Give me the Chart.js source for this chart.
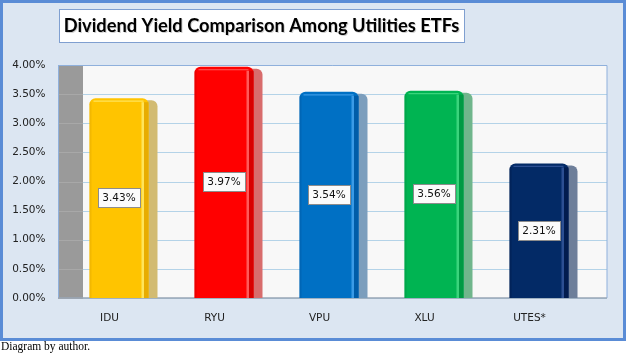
<!DOCTYPE html>
<html><head><meta charset="utf-8">
<script src="https://cdn.jsdelivr.net/npm/chart.js@4.4.1/dist/chart.umd.min.js"></script>
<style>html,body{margin:0;padding:0;background:#fff;}#wrap{width:627px;height:357px;position:relative;}</style>
</head><body><div id="wrap"><canvas id="c" width="627" height="357"></canvas></div>
<script>
const titleText = 'Dividend Yield Comparison Among Utilities ETFs';
const captionText = 'Diagram by author.';
const categories = ['IDU', 'RYU', 'VPU', 'XLU', 'UTES*'];
const yieldValues = [3.43, 3.97, 3.54, 3.56, 2.31];
const yMin = 0, yMax = 4, yStep = 0.5;
const barColors = ['#ffc400', '#ff0000', '#0070c4', '#00b452', '#032a66'];
const sideColors = ['#d2bb72', '#d86c6c', '#7c9ebd', '#70b68c', '#6e7f9a'];
const hiColors = ['#ffe45a', '#ff5a5a', '#3a9ae6', '#3ad47c', '#2c4f92'];
const edgeColors = ['#e8ac00', '#d80000', '#005ca8', '#009a44', '#021c4e'];

const decor = {
  id: 'decor',
  beforeDraw(chart) {
    const ctx = chart.ctx, ca = chart.chartArea, ys = chart.scales.y;
    ctx.save();
    ctx.fillStyle = '#ffffff'; ctx.fillRect(0, 0, 627, 357);
    ctx.fillStyle = '#dce6f2'; ctx.fillRect(0, 0, 626, 341);
    ctx.strokeStyle = '#5a8cd6'; ctx.lineWidth = 3; ctx.strokeRect(1.5, 1.5, 623, 338);
    // title box
    ctx.fillStyle = '#ffffff'; ctx.fillRect(59, 9, 405, 33);
    ctx.strokeStyle = '#7f9fd0'; ctx.lineWidth = 1; ctx.strokeRect(59.5, 9.5, 405, 33);
    let fs = 21;
    ctx.font = 'bold ' + fs + 'px Lato';
    const w = ctx.measureText(titleText).width;
    fs = Math.min(22, fs * 396 / w);
    ctx.font = 'bold ' + fs.toFixed(2) + 'px Lato';
    ctx.textAlign = 'center'; ctx.textBaseline = 'middle';
    ctx.fillStyle = 'rgba(0,0,0,0.18)'; ctx.fillText(titleText, 262.5, 27);
    ctx.fillStyle = '#000000'; ctx.fillText(titleText, 261.5, 26);
    // caption
    ctx.font = '11.5px "Liberation Serif"'; ctx.textAlign = 'left'; ctx.textBaseline = 'alphabetic';
    ctx.fillStyle = '#000'; ctx.fillText(captionText, 1, 350);
    // plot walls
    const wl = ca.left - 8.5, bl = ca.left + 16.5, br = ca.right + 15.5;
    ctx.fillStyle = '#f8f8f8'; ctx.fillRect(bl, ca.top, br - bl, ca.bottom - ca.top);
    ctx.fillStyle = '#9a9a9a'; ctx.fillRect(wl, ca.top, bl - wl, ca.bottom - ca.top);
    ctx.lineWidth = 1;
    for (let v = yMin; v <= yMax + 1e-9; v += yStep) {
      const yy = Math.round(ys.getPixelForValue(v)) + 0.5;
      ctx.strokeStyle = '#a8a8a8';
      ctx.beginPath(); ctx.moveTo(wl, yy); ctx.lineTo(bl, yy); ctx.stroke();
      ctx.strokeStyle = '#b4d3e8';
      ctx.beginPath(); ctx.moveTo(bl, yy); ctx.lineTo(br, yy); ctx.stroke();
    }
    ctx.strokeStyle = '#8fb0dc';
    ctx.beginPath(); ctx.moveTo(wl, ca.top + 0.5); ctx.lineTo(br, ca.top + 0.5); ctx.lineTo(br, ca.bottom); ctx.stroke();
    ctx.beginPath(); ctx.moveTo(wl + 0.5, ca.top); ctx.lineTo(wl + 0.5, ca.bottom); ctx.stroke();
    ctx.strokeStyle = '#98a6b6'; ctx.lineWidth = 1.5;
    ctx.beginPath(); ctx.moveTo(wl, ca.bottom); ctx.lineTo(br, ca.bottom); ctx.stroke();
    ctx.restore();
  },
  beforeDatasetsDraw(chart) {
    const ctx = chart.ctx, meta = chart.getDatasetMeta(0);
    ctx.save();
    meta.data.forEach((b, i) => {
      const p = b.getProps(['x', 'y', 'base', 'width'], true);
      const r = p.x + p.width / 2;
      ctx.fillStyle = sideColors[i];
      ctx.beginPath(); ctx.roundRect(r - 6, p.y + 2, 15, p.base - p.y - 2, [0, 6, 0, 0]); ctx.fill();
    });
    ctx.restore();
  },
  afterDatasetsDraw(chart) {
    const ctx = chart.ctx, meta = chart.getDatasetMeta(0);
    ctx.save();
    meta.data.forEach((b, i) => {
      const p = b.getProps(['x', 'y', 'base', 'width'], true);
      const l = p.x - p.width / 2, r = p.x + p.width / 2;
      // right highlight stripe
      ctx.fillStyle = hiColors[i]; ctx.fillRect(r - 7, p.y + 4, 2.5, p.base - p.y - 4);
      ctx.fillStyle = edgeColors[i]; ctx.fillRect(r - 4.5, p.y + 4, 4.5, p.base - p.y - 4);
      ctx.fillStyle = edgeColors[i]; ctx.globalAlpha = 0.5; ctx.fillRect(l, p.y + 4, 2, p.base - p.y - 4);
      ctx.globalAlpha = 1;
      // top bevel
      ctx.strokeStyle = hiColors[i]; ctx.lineWidth = 1.2;
      ctx.beginPath(); ctx.moveTo(l + 4, p.y + 3); ctx.lineTo(r - 5, p.y + 3); ctx.stroke();
      // value label
      const cy = (p.y + p.base) / 2;
      const bw = 43, bh = 20;
      ctx.fillStyle = '#fbfbfb'; ctx.fillRect(Math.round(p.x - bw / 2), Math.round(cy - bh / 2), bw, bh);
      ctx.strokeStyle = '#8c8c8c'; ctx.lineWidth = 1;
      ctx.strokeRect(Math.round(p.x - bw / 2) + 0.5, Math.round(cy - bh / 2) + 0.5, bw - 1, bh - 1);
      ctx.fillStyle = '#111'; ctx.font = '10.5px "DejaVu Sans"';
      ctx.textAlign = 'center'; ctx.textBaseline = 'middle';
      ctx.fillText(yieldValues[i].toFixed(2) + '%', p.x, Math.round(cy) + 0.5);
    });
    ctx.restore();
  }
};

new Chart(document.getElementById('c'), {
  type: 'bar',
  data: {
    labels: categories,
    datasets: [{
      data: yieldValues,
      backgroundColor: barColors,
      borderWidth: 0,
      borderRadius: { topLeft: 6, topRight: 6, bottomLeft: 0, bottomRight: 0 },
      borderSkipped: false,
      barPercentage: 0.562,
      categoryPercentage: 1
    }]
  },
  options: {
    responsive: false,
    animation: false,
    layout: { padding: { top: 65, right: 35.5, bottom: 16, left: 0 } },
    plugins: { legend: { display: false }, tooltip: { enabled: false }, title: { display: false } },
    scales: {
      x: {
        grid: { display: false, drawTicks: false }, border: { display: false },
        ticks: { labelOffset: -9.5, padding: 14, color: '#222', font: { family: 'DejaVu Sans', size: 10.5 } },
        afterFit(s) { s.height = 43; }
      },
      y: {
        min: yMin, max: yMax,
        grid: { display: false, drawTicks: false }, border: { display: false },
        ticks: { stepSize: yStep, padding: 21, color: '#222', font: { family: 'DejaVu Sans', size: 10.5 },
          callback: v => Number(v).toFixed(2) + '%' },
        afterFit(s) { s.width = 66.5; }
      }
    }
  },
  plugins: [decor]
});
</script></body></html>
